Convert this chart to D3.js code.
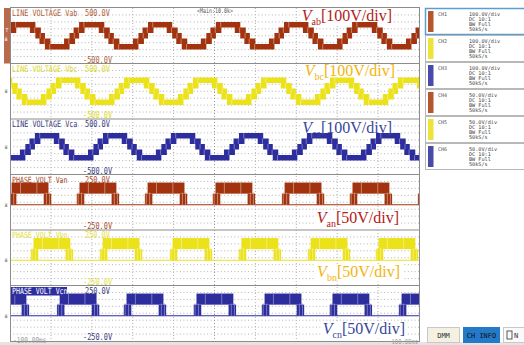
<!DOCTYPE html>
<html>
<head>
<meta charset="utf-8">
<script src="https://cdn.jsdelivr.net/npm/d3@7"></script>
<style>
  body { margin: 0; background: #fff; }
  svg { display: block; font-family: "DejaVu Sans Mono", monospace; }
</style>
</head>
<body>
<svg id="chart" width="524" height="345"></svg>
<script>
// time axis, ms
const timeDomain = [-100, 100];
const timeLabels = ['-100.00ms', '100.00ms'];

const channelNames = ['CH1', 'CH2', 'CH3', 'CH4', 'CH5', 'CH6'];
const channelTitles = ['LINE VOLTAGE Vab', 'LINE VOLTAGE Vbc', 'LINE VOLTAGE Vca',
                       'PHASE VOLT Van', 'PHASE VOLT Vbn', 'PHASE VOLT Vcn'];
const channelRanges = [500, 500, 500, 250, 250, 250];          // +/- V per zone
const channelDivs = ['100.0V/div', '100.0V/div', '100.0V/div', '50.0V/div', '50.0V/div', '50.0V/div'];
const noteSubs = ['ab', 'bc', 'ca', 'an', 'bn', 'cn'];
const noteScales = ['[100V/div]', '[100V/div]', '[100V/div]', '[50V/div]', '[50V/div]', '[50V/div]'];

// centre of every positive half cycle (ms)
const vabCentres = [-127.0, -93.6, -59.9, -26.7, 6.6, 39.9, 73.6];
const vbcCentres = [-104.9, -71.6, -37.9, -4.6, 29.1, 62.3, 95.6];
const vcaCentres = [-115.2, -81.9, -48.7, -15.4, 17.8, 51.6, 84.8];
const vanCentres = [-90.2, -57.0, -23.7, 9.5, 43.3, 76.5, 109.8];
const vbnCentres = [-79.5, -45.7, -11.5, 22.2, 56.0, 89.2];
const vcnCentres = [-101.0, -66.7, -34.0, 0.2, 33.5, 66.7, 100.5];
const period = 33.4;

// one cycle of the line voltage staircase (fraction of period from centre, V)
const lineStepPhase = [0, 0.14, 0.22, 0.28, 0.36, 0.64, 0.72, 0.78, 0.86];
const lineStepLevel = [200, 100, 0, -100, -200, -100, 0, 100, 200];
const lineChatter = [0.03];

// phase voltage switching blocks around each centre
const blockFrom = [-0.31, -0.27, 0.20];
const blockTo = [-0.20, 0.27, 0.31];
const blockLow = [0, 100, 0];
const blockHigh = [100, 200, 100];
const sideChatter = [-0.29, -0.24, 0.24, 0.285];
const topChatter = [-0.14, 0.1];

const infoLines = ['DC   10:1', 'BW Full', '50kS/s'];

const centres = [vabCentres, vbcCentres, vcaCentres, vanCentres, vbnCentres, vcnCentres];
const colors = ['#a3330f', '#ece21a', '#2d2d9e', '#a3330f', '#ece21a', '#2d2d9e'];
const lightColors = ['#c99a84', '#f4ef8a', '#8a8ac8', '#c99a84', '#f4ef8a', '#8a8ac8'];
const titleColors = ['#b0603a', '#dcd82a', '#3c3c80', '#a84a28', '#e4e040', '#ffffff'];
const noteColors = ['#b3211b', '#f3b50c', '#37479a', '#b3211b', '#f3b50c', '#37479a'];
const swatchColors = ['#b4572f', '#ece43a', '#4a4aa8', '#b4572f', '#ece43a', '#4a4aa8'];

const svg = d3.select('#chart');
const plotLeft = 10, plotRight = 419, plotTop = 8, panelH = 55.5;
const plotBottom = plotTop + panelH * 6;

const x = d3.scaleLinear().domain(timeDomain).range([plotLeft, plotRight]);

svg.append('defs').append('clipPath').attr('id', 'plotClip')
  .append('rect')
  .attr('x', plotLeft + 1).attr('y', plotTop)
  .attr('width', plotRight - plotLeft - 1).attr('height', plotBottom - plotTop);

const gridLayer = svg.append('g');
const noteBgLayer = svg.append('g');
const traceLayer = svg.append('g').attr('clip-path', 'url(#plotClip)');
const frameLayer = svg.append('g');
const textLayer = svg.append('g');

// narrow, tall scope lettering
function scopeText(px, py, str, size, color, anchor, sy) {
  return textLayer.append('text')
    .attr('transform', `translate(${px},${py}) scale(1,${sy || 1.3})`)
    .attr('text-anchor', anchor || 'start')
    .attr('font-size', size)
    .attr('fill', color)
    .text(str);
}

// grid
for (let i = 0; i < 6; i++) {
  const top = plotTop + i * panelH;
  d3.range(1, 8).forEach(k => {
    gridLayer.append('line')
      .attr('x1', plotLeft).attr('x2', plotRight)
      .attr('y1', top + k * panelH / 8).attr('y2', top + k * panelH / 8)
      .attr('stroke', '#b4b4b4').attr('stroke-dasharray', '1,2.4');
  });
}
x.ticks(10).slice(1, -1).forEach(t => {
  gridLayer.append('line')
    .attr('x1', x(t)).attr('x2', x(t))
    .attr('y1', plotTop).attr('y2', plotBottom)
    .attr('stroke', t === 0 ? '#999' : '#b4b4b4').attr('stroke-dasharray', '1,2');
});

// big annotation layout (end x, baseline offset in zone)
const noteEnd = [392, 395, 392, 399, 400, 405];
const noteBase = [13, 12.5, 14, 48.5, 47, 48.5];

for (let i = 0; i < 6; i++) {
  const top = plotTop + i * panelH;
  const isLine = i < 3;
  const shift = isLine ? 0 : 2.5;
  const y = d3.scaleLinear()
    .domain([-channelRanges[i], channelRanges[i]])
    .range([top + panelH + shift, top + shift]);

  // annotation with white box behind
  const note = textLayer.append('text')
    .attr('x', noteEnd[i]).attr('y', top + noteBase[i])
    .attr('text-anchor', 'end')
    .attr('font-family', '"Liberation Serif", "Times New Roman", serif')
    .attr('font-size', 16)
    .attr('fill', noteColors[i]);
  note.append('tspan').attr('font-style', 'italic').text('V');
  note.append('tspan').attr('font-size', 10).attr('dy', 3.5).text(noteSubs[i]);
  note.append('tspan').attr('dy', -3.5).text(noteScales[i]);
  const bb = note.node().getBBox();
  noteBgLayer.append('rect')
    .attr('x', bb.x - 2).attr('y', bb.y + 1)
    .attr('width', bb.width + 4).attr('height', bb.height - 2)
    .attr('fill', '#fff');

  const g = traceLayer.append('g');

  if (isLine) {
    const pts = [];
    centres[i].forEach(c => lineStepPhase.forEach((p, j) => pts.push([c + p * period, lineStepLevel[j]])));
    const line = d3.line().x(d => x(d[0])).y(d => y(d[1])).curve(d3.curveStepAfter);
    g.append('path').datum(pts)
      .attr('d', line)
      .attr('fill', 'none')
      .attr('stroke', colors[i])
      .attr('stroke-width', 5.5);
    centres[i].forEach(c => {
      lineStepPhase.forEach((p, j) => {
        if (j === 0) return;
        lineChatter.forEach(o => {
          const xx = x(c + (p + o) * period);
          g.append('line')
            .attr('x1', xx).attr('x2', xx)
            .attr('y1', y(lineStepLevel[j]) - 2.7).attr('y2', y(lineStepLevel[j]) + 2.7)
            .attr('stroke', lightColors[i]).attr('stroke-width', 0.8);
        });
      });
    });
  } else {
    g.append('line')
      .attr('x1', plotLeft).attr('x2', plotRight)
      .attr('y1', y(0)).attr('y2', y(0))
      .attr('stroke', colors[i]).attr('stroke-width', 1.2);
    centres[i].forEach(c => {
      blockFrom.forEach((f, j) => {
        g.append('rect')
          .attr('x', x(c + f * period))
          .attr('width', x(c + blockTo[j] * period) - x(c + f * period))
          .attr('y', y(blockHigh[j]))
          .attr('height', y(blockLow[j]) - y(blockHigh[j]))
          .attr('fill', colors[i]);
      });
      sideChatter.forEach(o => {
        const xx = x(c + o * period);
        g.append('line')
          .attr('x1', xx).attr('x2', xx)
          .attr('y1', y(0)).attr('y2', y(110))
          .attr('stroke', lightColors[i]).attr('stroke-width', 0.8);
      });
      topChatter.forEach(o => {
        const xx = x(c + o * period);
        g.append('line')
          .attr('x1', xx).attr('x2', xx)
          .attr('y1', y(100)).attr('y2', y(200))
          .attr('stroke', lightColors[i]).attr('stroke-width', 0.8);
      });
    });
  }

  // zone title and range labels
  if (i === 5) {
    frameLayer.append('rect')
      .attr('x', plotLeft + 1).attr('y', top + 1.5)
      .attr('width', 56).attr('height', 8.5)
      .attr('fill', '#2d2d9e');
  }
  const rangeColor = i === 5 ? '#3c3c80' : titleColors[i];
  scopeText(plotLeft + 2, top + 8, channelTitles[i], isLine ? 6.8 : 6.6, titleColors[i]);
  scopeText(85, top + 8, channelRanges[i].toFixed(1) + 'V', 6.9, rangeColor);
  scopeText(83, top + panelH - 1, (-channelRanges[i]).toFixed(1) + 'V', 6.9, rangeColor);

  // zero marker at left edge
  textLayer.append('text')
    .attr('x', 6).attr('y', y(0) + (i === 0 ? 5 : 2))
    .attr('text-anchor', 'middle')
    .attr('font-size', 6)
    .attr('fill', i === 0 ? '#eee' : '#777')
    .text('ᵻ');
}

// zone separators and frame
d3.range(1, 6).forEach(i => {
  frameLayer.append('line')
    .attr('x1', plotLeft).attr('x2', plotRight)
    .attr('y1', plotTop + i * panelH).attr('y2', plotTop + i * panelH)
    .attr('stroke', '#8c8c8c').attr('stroke-width', 1);
});
frameLayer.append('rect')
  .attr('x', plotLeft + 0.5).attr('y', plotTop - 0.5)
  .attr('width', plotRight - plotLeft).attr('height', plotBottom - plotTop + 1)
  .attr('fill', 'none').attr('stroke', '#8c8c8c');
frameLayer.append('rect')
  .attr('x', 0).attr('y', plotBottom + 1).attr('width', 524).attr('height', 345 - plotBottom)
  .attr('fill', '#e4e4e4');

// active channel strip
frameLayer.append('rect')
  .attr('x', 4).attr('y', plotTop).attr('width', 6).attr('height', panelH)
  .attr('fill', '#b86a4a');
textLayer.append('text')
  .attr('x', 7).attr('y', plotTop + 24).attr('text-anchor', 'middle')
  .attr('font-size', 5.5).attr('fill', '#eee').text('T');

scopeText(215, plotTop + 5, '<Main:10.0k>', 5, '#555', 'middle');

scopeText(plotLeft + 3, plotBottom + 1.5, timeLabels[0], 6.2, '#9a9a9a');
scopeText(plotRight - 1, plotBottom + 2.5, timeLabels[1], 5.5, '#9a9a9a', 'end', 1.2);

// channel info column
const info = svg.append('g');
channelNames.forEach((name, i) => {
  const by = plotTop + i * 27;
  info.append('rect')
    .attr('x', 425.5).attr('y', by + 0.5)
    .attr('width', 100).attr('height', 26)
    .attr('fill', '#fff')
    .attr('stroke', i === 0 ? '#5a9fd0' : '#b8b8b8')
    .attr('stroke-width', i === 0 ? 1.5 : 1);
  info.append('rect')
    .attr('x', 428).attr('y', by + 3)
    .attr('width', 5.5).attr('height', 21)
    .attr('fill', swatchColors[i]);
  info.append('text')
    .attr('x', 438).attr('y', by + 7.5)
    .attr('font-size', 5).attr('fill', '#555')
    .text(name);
  [channelDivs[i]].concat(infoLines).forEach((t, k) => {
    info.append('text')
      .attr('x', 469).attr('y', by + 7.5 + k * 5.3)
      .attr('font-size', 5.2).attr('fill', '#444')
      .text(t);
  });
});

// bottom buttons
info.append('rect').attr('x', 427.5).attr('y', 327.5).attr('width', 32).attr('height', 15)
  .attr('fill', '#f5f1e2').attr('stroke', '#c8c8c8');
info.append('text').attr('x', 443.5).attr('y', 338).attr('text-anchor', 'middle')
  .attr('font-size', 7).attr('fill', '#333').text('DMM');
info.append('rect').attr('x', 463).attr('y', 327).attr('width', 37).attr('height', 16)
  .attr('fill', '#2479c8');
info.append('text').attr('x', 481.5).attr('y', 338).attr('text-anchor', 'middle')
  .attr('font-size', 7).attr('fill', '#111').text('CH INFO');
info.append('rect').attr('x', 503.5).attr('y', 327.5).attr('width', 22).attr('height', 15)
  .attr('fill', '#fafafa').attr('stroke', '#c8c8c8');
info.append('rect').attr('x', 507).attr('y', 331).attr('width', 5).attr('height', 8)
  .attr('fill', 'none').attr('stroke', '#333').attr('stroke-width', 0.8);
info.append('text').attr('x', 514).attr('y', 338)
  .attr('font-size', 7).attr('fill', '#333').text('N');
</script>
</body>
</html>
